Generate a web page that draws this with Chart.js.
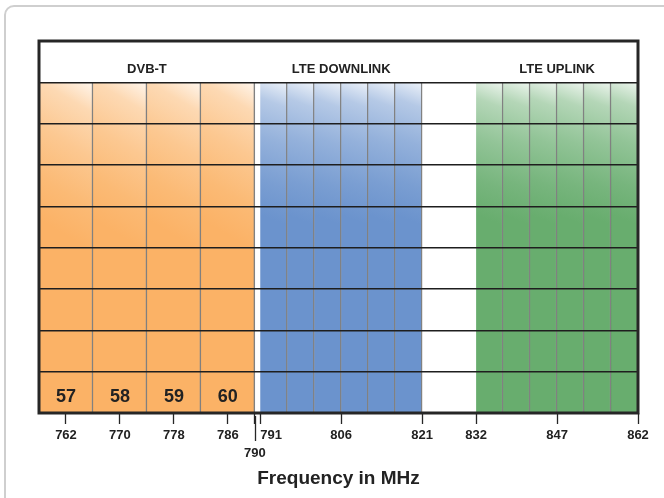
<!DOCTYPE html>
<html>
<head>
<meta charset="utf-8">
<script src="https://cdn.jsdelivr.net/npm/chart.js@4/dist/chart.umd.min.js"></script>
<style>
  html, body { margin: 0; padding: 0; background: #fff; overflow: hidden; }
  #wrap { position: relative; width: 664px; height: 498px; }
  #frame { position: absolute; left: 4px; top: 5px; width: 720px; height: 560px;
           border: 2.5px solid #cfcfcf; border-radius: 10px; }
  #barChart_div { position: absolute; left: 0; top: 0; }
</style>
</head>
<body>
<div id="wrap">
  <div id="frame"></div>
  <canvas id="barChart_div" width="664" height="498"></canvas>
</div>
<script>
// band edges in MHz
const dvbEdges = [758, 766, 774, 782, 790];
const downlinkEdges = [791, 796, 801, 806, 811, 816, 821];
const uplinkEdges = [832, 837, 842, 847, 852, 857, 862];
const dvbChannels = ['57', '58', '59', '60'];
const bandNames = ['DVB-T', 'LTE DOWNLINK', 'LTE UPLINK'];
const tickFreqs = [762, 770, 778, 786, 790, 791, 806, 821, 832, 847, 862];
const rowLabels = ['head', 'r1', 'r2', 'r3', 'r4', 'r5', 'r6', 'r7', 'r8'];

// schematic (non linear) frequency axis: [MHz, axis unit]
const axisBreaks = [[758, 0], [790, 8], [791, 8.2], [821, 14.2], [832, 16.2], [862, 22.2]];
function pos(f) {
    for (let i = 1; i < axisBreaks.length; i++) {
        const a = axisBreaks[i - 1], b = axisBreaks[i];
        if (f <= b[0]) return a[1] + (f - a[0]) / (b[0] - a[0]) * (b[1] - a[1]);
    }
    return axisBreaks[axisBreaks.length - 1][1];
}

const bandColors = [[251, 178, 102], [107, 147, 205], [104, 173, 110]];
const textColor = '#222';

function mix(c, w) {
    return 'rgb(' + c.map(v => Math.round(v + (255 - v) * w)).join(',') + ')';
}

function cellFill(c) {
    return function (ctx) {
        const chart = ctx.chart;
        const area = chart.chartArea;
        if (!area || !ctx.raw) return mix(c, 0);
        const x = chart.scales.x;
        const x0 = x.getPixelForValue(ctx.raw[0]);
        const x1 = x.getPixelForValue(ctx.raw[1]);
        const top = area.top + (area.bottom - area.top) / 9;
        const g = chart.ctx.createLinearGradient(x1, top, x0 - 20, top + 125);
        g.addColorStop(0, mix(c, 0.88));
        g.addColorStop(0.18, mix(c, 0.5));
        g.addColorStop(0.45, mix(c, 0.28));
        g.addColorStop(0.75, mix(c, 0.1));
        g.addColorStop(1, mix(c, 0));
        return g;
    };
}

const datasets = [];
[dvbEdges, downlinkEdges, uplinkEdges].forEach(function (edges, b) {
    for (let i = 0; i < edges.length - 1; i++) {
        const span = [pos(edges[i]), pos(edges[i + 1])];
        datasets.push({
            label: bandNames[b] + ' ' + i,
            data: rowLabels.map((r, k) => k === 0 ? null : span),
            backgroundColor: cellFill(bandColors[b]),
            borderColor: 'rgba(45,45,45,0.6)',
            borderWidth: { left: 0, right: 1.5, top: 0, bottom: 0 },
            borderSkipped: false,
            grouped: false,
            categoryPercentage: 1,
            barPercentage: 1
        });
    }
});

const labelsPlugin = {
    id: 'bandLabels',
    afterDraw(chart) {
        const c = chart.ctx, x = chart.scales.x, y = chart.scales.y, a = chart.chartArea;
        c.save();
        c.fillStyle = textColor;
        c.textAlign = 'center';
        c.textBaseline = 'middle';
        // band names in header row
        c.font = 'bold 13px "Liberation Sans", Arial, sans-serif';
        const spans = [[dvbEdges[0], dvbEdges[dvbEdges.length - 1]],
                       [downlinkEdges[0], downlinkEdges[downlinkEdges.length - 1]],
                       [uplinkEdges[0], uplinkEdges[uplinkEdges.length - 1]]];
        spans.forEach(function (s, i) {
            const cx = (x.getPixelForValue(pos(s[0])) + x.getPixelForValue(pos(s[1]))) / 2;
            c.fillText(bandNames[i], cx, y.getPixelForValue(0) + 8);
        });
        // DVB-T channel numbers in bottom row
        c.font = 'bold 18px "Liberation Sans", Arial, sans-serif';
        dvbChannels.forEach(function (ch, i) {
            const cx = (x.getPixelForValue(pos(dvbEdges[i])) + x.getPixelForValue(pos(dvbEdges[i + 1]))) / 2;
            c.fillText(ch, cx, y.getPixelForValue(rowLabels.length - 1) + 5);
        });
        // plot frame
        c.strokeStyle = '#262626';
        c.lineWidth = 3;
        c.strokeRect(a.left, a.top, a.right - a.left, a.bottom - a.top);
        // long tick at 790
        const px = Math.round(x.getPixelForValue(pos(790))) + 0.5;
        c.lineWidth = 1.3;
        c.beginPath();
        c.moveTo(px, a.bottom + 3);
        c.lineTo(px, a.bottom + 28);
        c.stroke();
        c.restore();
    }
};

new Chart(document.getElementById('barChart_div').getContext('2d'), {
    type: 'bar',
    data: { labels: rowLabels, datasets: datasets },
    options: {
        indexAxis: 'y',
        responsive: false,
        animation: false,
        layout: { padding: { left: 39, right: 26, top: 41, bottom: 0 } },
        plugins: { legend: { display: false }, tooltip: { enabled: false } },
        scales: {
            x: {
                type: 'linear',
                min: 0,
                max: pos(862),
                afterBuildTicks: function (scale) {
                    scale.ticks = tickFreqs.map(f => ({ value: pos(f) }));
                },
                afterFit: function (scale) { scale.height = 85; },
                border: { display: false },
                grid: {
                    drawOnChartArea: false,
                    drawTicks: true,
                    tickLength: 11,
                    tickColor: '#262626',
                    tickWidth: 1.3
                },
                ticks: {
                    autoSkip: false,
                    maxRotation: 0,
                    padding: 3,
                    color: textColor,
                    font: { family: '"Liberation Sans", Arial, sans-serif', size: 13, weight: 'bold', lineHeight: 1.35 },
                    callback: function (value, index) {
                        const f = tickFreqs[index];
                        if (f === 790) return ['', '790'];
                        if (f === 791) return '\u2007\u2007\u2007791';
                        return String(f);
                    }
                },
                title: {
                    display: true,
                    text: 'Frequency in MHz',
                    color: textColor,
                    font: { family: '"Liberation Sans", Arial, sans-serif', size: 19, weight: 'bold' },
                    padding: { top: 0, bottom: 8 }
                }
            },
            y: {
                type: 'category',
                afterFit: function (scale) { scale.width = 0; },
                border: { display: false },
                grid: { color: '#1e1e1e', lineWidth: 1.5, drawTicks: false, z: 1 },
                ticks: { display: false }
            }
        }
    },
    plugins: [labelsPlugin]
});
</script>
</body>
</html>
